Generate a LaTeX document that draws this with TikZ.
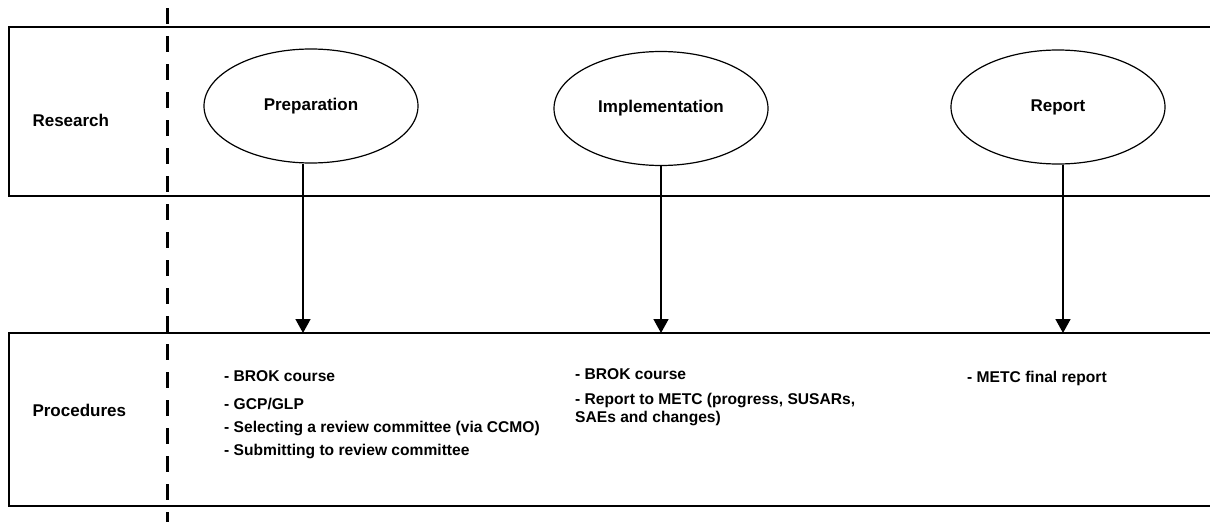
\documentclass[tikz,border=0pt]{standalone}
\usepackage{fontspec}
\setmainfont{Liberation Sans}
\usetikzlibrary{shapes.geometric,arrows.meta}
\begin{document}
\begin{tikzpicture}[x=1pt,y=-1pt,
  lane/.style={line width=1.5pt},
  divider/.style={line width=3pt,dash pattern=on 16pt off 12pt},
  phase/.style={ellipse,draw,line width=1.2pt,minimum width=214pt,minimum height=114pt,inner sep=0pt,font=\fontsize{17}{19}\selectfont\bfseries},
  lanelabel/.style={font=\fontsize{17}{19}\selectfont\bfseries,anchor=west},
  item/.style={font=\fontsize{15.6}{18}\selectfont\bfseries,anchor=west,inner sep=0pt},
  arr/.style={line width=1.6pt,-{Triangle[width=15pt,length=14pt]}}]
\useasboundingbox (0,0) rectangle (1210,522);
% lanes
\draw[lane] (1210,27) -| (9,196) -- (1210,196);
\draw[lane] (1210,333) -| (9,506) -- (1210,506);
% divider
\coordinate (dtop) at (167,8);
\coordinate (dbot) at (167,524);
\draw[divider] (dtop) -- (dbot);
% lane labels
\node[lanelabel] (research) at (29,120) {Research};
\node[lanelabel] (procedures) at (29,410) {Procedures};
% phases
\node[phase] (prep) at (311,106) {Preparation};
\node[phase] (impl) at (661,108.5) {Implementation};
\node[phase] (rep) at (1058,107) {Report};
% arrow targets
\coordinate (pa) at (303,333);
\coordinate (ia) at (661,333);
\coordinate (ra) at (1063,333);
\draw[arr] (prep.south -| pa) -- (pa);
\draw[arr] (impl.south -| ia) -- (ia);
\draw[arr] (rep.south -| ra) -- (ra);
% procedure items
\node[item] (p1) at (224,376) {- BROK course};
\node[item] (p2) at (224,404) {- GCP/GLP};
\node[item] (p3) at (224,428) {- Selecting a review committee (via CCMO)};
\node[item] (p4) at (224,451) {- Submitting to review committee};
\node[item] (i1) at (575,374) {- BROK course};
\node[item] (i2) at (575,400) {- Report to METC (progress, SUSARs,};
\node[item] (i3) at (575,418) {SAEs and changes)};
\node[item] (r1) at (967,378) {- METC final report};
\end{tikzpicture}
\end{document}
